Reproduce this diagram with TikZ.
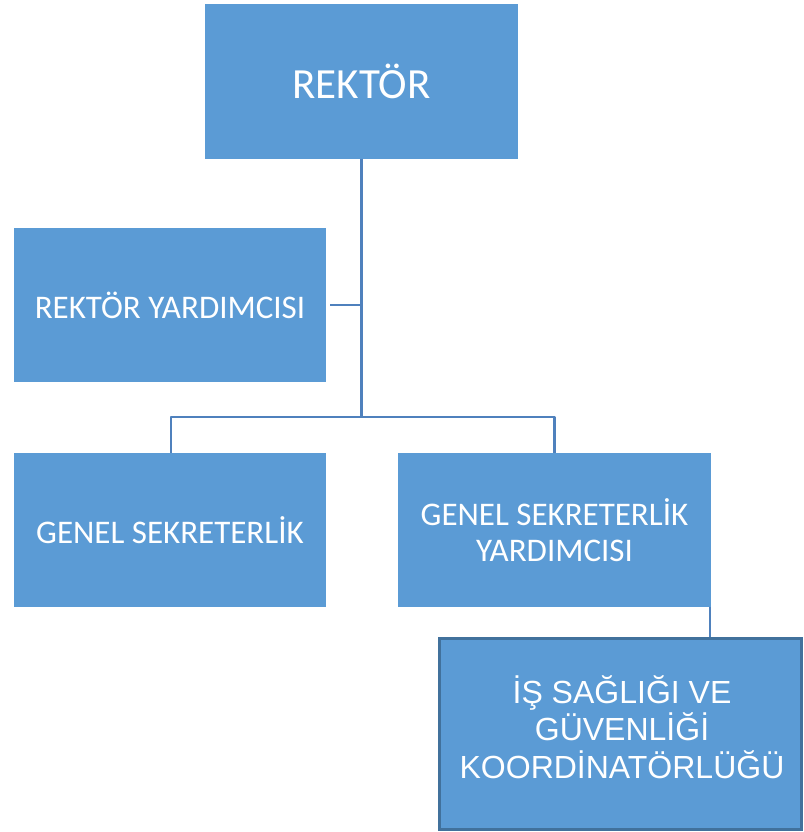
\documentclass[tikz,border=0pt]{standalone}
\usepackage{fontspec}
\setmainfont{Carlito}
\newfontfamily\arialf{Liberation Sans}
\definecolor{boxblue}{HTML}{5B9BD5}
\definecolor{linkblue}{HTML}{4F81BD}
\definecolor{edgeblue}{HTML}{41719C}
\begin{document}
\begin{tikzpicture}[x=1pt,y=-1pt,
  orgbox/.style={fill=boxblue,draw=none,rectangle,inner sep=0pt,
    minimum width=313pt,minimum height=154pt,text=white,align=center,
    font=\fontsize{33}{36}\selectfont},
  link/.style={draw=linkblue,line width=2.5pt},
  thinlink/.style={draw=linkblue,line width=1.2pt}]
\useasboundingbox (0,0) rectangle (803,832);
\node[orgbox,font=\fontsize{43}{48}\selectfont] (R) at (361.5,81.5) {REKTÖR};
\node[orgbox,minimum width=312pt] (RY) at (170,305) {REKTÖR YARDIMCISI};
\node[orgbox,minimum width=312pt] (GS) at (170,530) {GENEL SEKRETERLİK};
\node[orgbox] (GSY) at (554.5,530) {GENEL SEKRETERLİK\\YARDIMCISI};
\node[rectangle,fill=boxblue,draw=edgeblue,line width=3pt,inner sep=0pt,
  minimum width=362pt,minimum height=191pt] (ISG) at (620.5,734) {};
\node[text=white,align=center,inner sep=0pt,font=\arialf\fontsize{32}{37.5}\selectfont]
  (ISGt) at (622,727) {İŞ SAĞLIĞI VE\\GÜVENLİĞİ\\KOORDİNATÖRLÜĞÜ};
\coordinate (J) at (361.5,417);
\coordinate (JL) at (171,417);
\coordinate (JR) at (554.5,417);
\draw[link] (R.south) -- (J);
\draw[link] (RY.east) ++(4,0) -- (R.south |- RY.east);
\draw[link,line join=round] (GS.north -| JL) -- (JL) -- (JR) -- (GSY.north);
\draw[thinlink] (710,607) -- (710,637);
\end{tikzpicture}
\end{document}
